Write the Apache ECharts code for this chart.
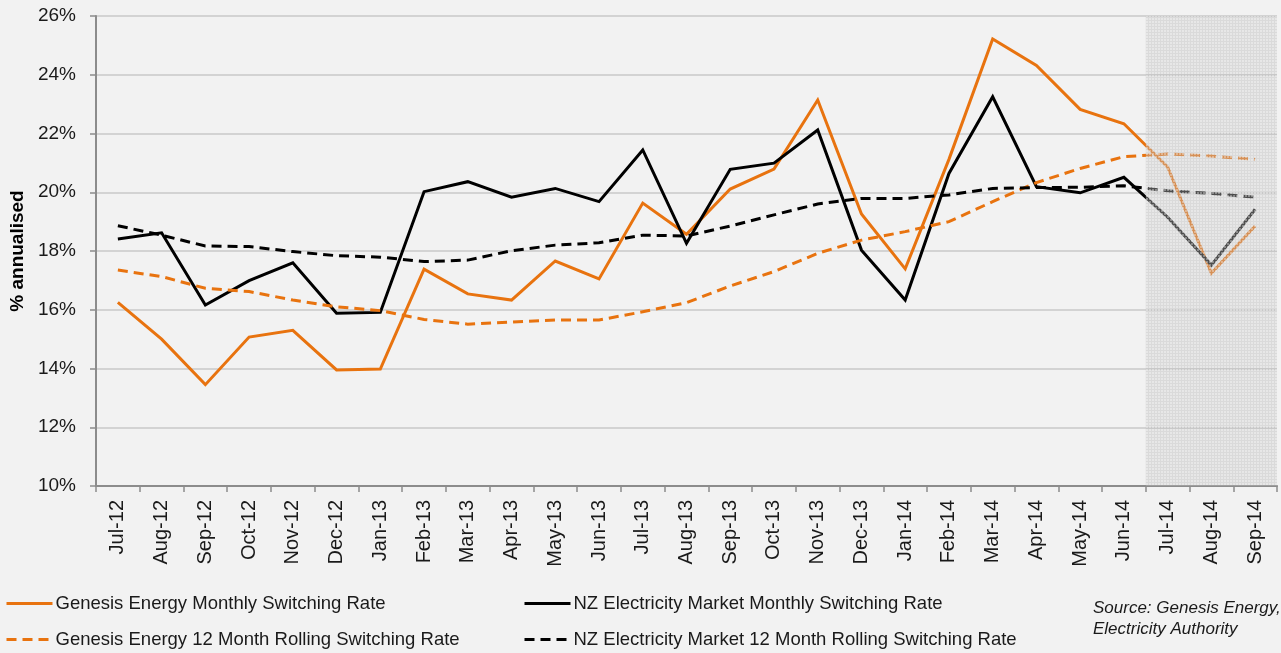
<!DOCTYPE html>
<html>
<head>
<meta charset="utf-8">
<script src="https://cdn.jsdelivr.net/npm/echarts@6/dist/echarts.min.js"></script>
<style>
  html, body { margin: 0; padding: 0; background: #f2f2f2; }
  #chart { width: 1281px; height: 653px; }
</style>
</head>
<body>
<div id="chart"></div>
<script>
// 月份
const months = ['Jul-12', 'Aug-12', 'Sep-12', 'Oct-12', 'Nov-12', 'Dec-12', 'Jan-13', 'Feb-13', 'Mar-13',
  'Apr-13', 'May-13', 'Jun-13', 'Jul-13', 'Aug-13', 'Sep-13', 'Oct-13', 'Nov-13', 'Dec-13', 'Jan-14',
  'Feb-14', 'Mar-14', 'Apr-14', 'May-14', 'Jun-14', 'Jul-14', 'Aug-14', 'Sep-14']

// % annualised
const genesisMonthly = [16.25, 15.0, 13.45, 15.07, 15.3, 13.95, 13.98, 17.38, 16.54, 16.33, 17.66, 17.05, 19.63,
  18.57, 20.11, 20.79, 23.14, 19.26, 17.39, 21.12, 25.22, 24.32, 22.82, 22.33, 20.86, 17.24, 18.85]
const nzMonthly = [18.41, 18.62, 16.16, 16.99, 17.6, 15.88, 15.91, 20.02, 20.36, 19.83, 20.13, 19.68, 21.44,
  18.26, 20.78, 20.99, 22.12, 18.03, 16.33, 20.64, 23.25, 20.19, 19.98, 20.51, 19.15, 17.52, 19.42]
const genesisRolling = [17.35, 17.13, 16.73, 16.62, 16.33, 16.1, 15.97, 15.67, 15.51, 15.58, 15.65, 15.65, 15.93,
  16.24, 16.81, 17.3, 17.92, 18.37, 18.66, 19.0, 19.68, 20.33, 20.81, 21.21, 21.3, 21.23, 21.12]
const nzRolling = [18.86, 18.54, 18.17, 18.15, 17.98, 17.84, 17.79, 17.64, 17.69, 18.01, 18.2, 18.28, 18.54,
  18.51, 18.85, 19.23, 19.6, 19.79, 19.79, 19.91, 20.13, 20.16, 20.17, 20.22, 20.05, 19.96, 19.83]

// 预测区间 (阴影)
const shadedMonths = ['Jul-14', 'Aug-14', 'Sep-14']

const ORANGE = '#e8730f'
const BLACK = '#000000'
const FONT = '"Liberation Sans", Arial, sans-serif'

const GEN_M = 'Genesis Energy Monthly Switching Rate'
const GEN_R = 'Genesis Energy 12 Month Rolling Switching Rate'
const NZ_M = 'NZ Electricity Market Monthly Switching Rate'
const NZ_R = 'NZ Electricity Market 12 Month Rolling Switching Rate'

const shadeData = months.map(m => (shadedMonths.includes(m) ? 26 : null))

function lineSeries(name, data, color, dashed) {
  return {
    name,
    type: 'line',
    data,
    symbol: 'none',
    z: 2,
    lineStyle: { color, width: 3, type: dashed ? [10, 6] : 'solid', cap: 'butt', join: 'miter' },
    itemStyle: { color }
  }
}

// 单项图例
function legendItem(name, left, top) {
  return {
    left, top, padding: 0, itemWidth: 46, itemHeight: 3, itemGap: 0,
    lineStyle: { width: 3 },
    textStyle: { fontSize: 18.5, color: '#1a1a1a', fontFamily: FONT, padding: [0, 0, 0, -2] },
    data: [name]
  }
}

const chart = echarts.init(document.getElementById('chart'))
chart.setOption({
  backgroundColor: '#f2f2f2',
  animation: false,
  textStyle: { fontFamily: FONT },
  grid: { left: 96, right: 4, top: 16, bottom: 167, containLabel: false, outerBoundsMode: 'none' },
  xAxis: {
    type: 'category',
    data: months,
    boundaryGap: true,
    axisLine: { lineStyle: { color: '#8c8c8c', width: 2 } },
    axisTick: { show: true, alignWithLabel: false, length: 6, lineStyle: { color: '#8c8c8c', width: 1.5 } },
    axisLabel: { rotate: 90, color: '#1a1a1a', fontSize: 20, fontFamily: FONT, margin: 14, interval: 0 },
    splitLine: { show: false }
  },
  yAxis: {
    type: 'value',
    min: 10,
    max: 26,
    interval: 2,
    name: '% annualised',
    nameLocation: 'middle',
    nameRotate: 90,
    nameGap: 69,
    nameTextStyle: { fontSize: 19, fontWeight: 'bold', color: '#000', fontFamily: FONT },
    axisLine: { show: true, lineStyle: { color: '#8c8c8c', width: 2 } },
    axisTick: { show: true, length: 6, lineStyle: { color: '#8c8c8c', width: 1.5 } },
    axisLabel: { formatter: '{value}%', color: '#1a1a1a', fontSize: 19, fontFamily: FONT, margin: 20 },
    splitLine: { lineStyle: { color: '#c8c8c8', width: 1.5 } }
  },
  legend: [
    legendItem(GEN_M, 5, 594),
    legendItem(GEN_R, 5, 630),
    legendItem(NZ_M, 523, 594),
    legendItem(NZ_R, 523, 630)
  ],
  graphic: [
    {
      type: 'text', left: 1093, top: 598,
      style: {
        text: 'Source: Genesis Energy,\nElectricity Authority',
        font: 'italic 17px ' + FONT, fill: '#1a1a1a', lineHeight: 21
      }
    }
  ],
  series: [
    lineSeries(GEN_M, genesisMonthly, ORANGE, false),
    lineSeries(NZ_M, nzMonthly, BLACK, false),
    lineSeries(GEN_R, genesisRolling, ORANGE, true),
    lineSeries(NZ_R, nzRolling, BLACK, true),
    {
      name: 'shade',
      type: 'bar',
      data: shadeData,
      barWidth: '100%',
      barCategoryGap: 0,
      z: 5,
      silent: true,
      itemStyle: {
        color: 'rgba(185,185,185,0.42)',
        decal: {
          symbol: 'rect', symbolSize: 1, color: 'rgba(255,255,255,0.35)',
          dashArrayX: [2, 1], dashArrayY: [2, 1], rotation: 0
        }
      }
    }
  ]
})
</script>
</body>
</html>
